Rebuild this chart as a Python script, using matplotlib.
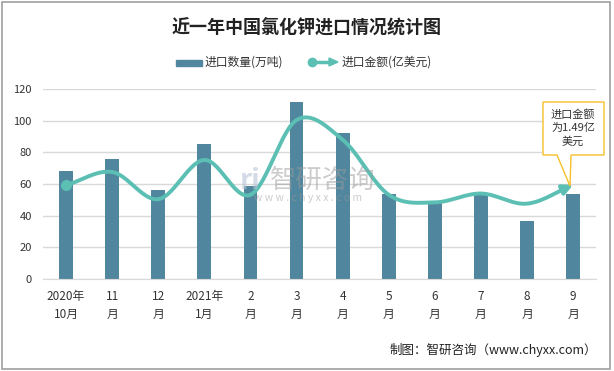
import numpy as np
import matplotlib.pyplot as plt
from matplotlib.patches import Rectangle, Polygon
from matplotlib.lines import Line2D

plt.rcParams['font.family'] = ['Noto Sans CJK SC', 'DejaVu Sans']

months = ['2020年\n10月', '11\n月', '12\n月', '2021年\n1月', '2\n月', '3\n月',
          '4\n月', '5\n月', '6\n月', '7\n月', '8\n月', '9\n月']
qty = [68, 76, 56, 85, 59, 112, 92, 54, 48.5, 54, 36.6, 54]          # 万吨
amount = [1.48, 1.69, 1.26, 1.88, 1.33, 2.51, 2.2, 1.33, 1.21, 1.35, 1.19, 1.49]  # 亿美元

bar_c = '#50879f'
line_c = '#5bbfb4'


def catmull(x, y, n=30):
    # smooth curve through the points, like excel's smoothed line
    x = np.asarray(x, float)
    y = np.asarray(y, float)
    px = np.concatenate([[2 * x[0] - x[1]], x, [2 * x[-1] - x[-2]]])
    py = np.concatenate([[2 * y[0] - y[1]], y, [2 * y[-1] - y[-2]]])
    xs, ys = [], []
    t = np.linspace(0, 1, n)
    for i in range(1, len(px) - 2):
        for p, out in ((px, xs), (py, ys)):
            p0, p1, p2, p3 = p[i - 1], p[i], p[i + 1], p[i + 2]
            out.extend(0.5 * ((2 * p1) + (-p0 + p2) * t +
                              (2 * p0 - 5 * p1 + 4 * p2 - p3) * t ** 2 +
                              (-p0 + 3 * p1 - 3 * p2 + p3) * t ** 3))
    return np.array(xs), np.array(ys)


def fx(px):
    return px / 614


def fy(py):
    return 1 - py / 371


fig = plt.figure(figsize=(6.14, 3.71), dpi=100)
fig.patches.append(Rectangle((0.004, 0.006), 0.99, 0.988, transform=fig.transFigure,
                             fill=False, edgecolor='#a0a0a0', lw=1.2))

ax = fig.add_axes([0.070, 0.248, 0.901, 0.512])
x = np.arange(len(months))
ax.bar(x, qty, width=0.3, color=bar_c, zorder=2)
ax.set_xlim(-0.5, len(months) - 0.5)
ax.set_ylim(0, 120)
ax.set_yticks(range(0, 121, 20))
ax.grid(axis='y', color='#d9d9d9', lw=1, zorder=0)
for s in ['top', 'right', 'left']:
    ax.spines[s].set_visible(False)
ax.spines['bottom'].set_color('#d9d9d9')
ax.tick_params(length=0, labelsize=8, colors='#333333')
ax.tick_params(axis='y', pad=8)
ax.set_xticks(x)
ax.set_xticklabels(months, fontsize=8.5, linespacing=1.5)
ax.tick_params(axis='x', pad=8)

ax2 = ax.twinx()
ax2.set_ylim(0, 3)
ax2.axis('off')
sx, sy = catmull(x, amount)
ax2.plot(sx[:-6], sy[:-6], color=line_c, lw=2.8, solid_capstyle='round', zorder=4)
ax2.plot(x[0], amount[0], 'o', color=line_c, ms=7, zorder=5)
ax2.annotate('', xy=(sx[-1], sy[-1]), xytext=(sx[-8], sy[-8]),
             arrowprops=dict(arrowstyle='-|>,head_length=0.6,head_width=0.3',
                             color=line_c, lw=2.8, shrinkA=0, shrinkB=0), zorder=5)

# callout
fig.patches.append(Polygon([[fx(543), fy(102)], [fx(604), fy(102)], [fx(604), fy(155)],
                            [fx(571), fy(155)], [fx(570), fy(186)], [fx(557), fy(155)],
                            [fx(543), fy(155)]],
                           closed=True, transform=fig.transFigure, facecolor='white',
                           edgecolor='#f5c02c', lw=1, zorder=10))
fig.text(fx(573), fy(128), '进口金额\n为1.49亿\n美元', ha='center', va='center',
         fontsize=8, color='#333333', linespacing=1.35, zorder=11)

# watermark
fig.text(fx(323), fy(180), '智研咨询', ha='center', va='center', fontsize=19,
         color='#9a9a9a', alpha=0.5, zorder=8)
fig.text(fx(308), fy(198), 'w w w . c h y x x . c o m', ha='center', va='center',
         fontsize=7.5, color='#9a9a9a', alpha=0.5, zorder=8)
fig.text(fx(250), fy(181), 'ri', ha='center', va='center', fontsize=20,
         fontweight='bold', color='#b8c4d8', alpha=0.6, zorder=8)

fig.text(0.5, fy(27), '近一年中国氯化钾进口情况统计图', ha='center', va='center',
         fontsize=13, fontweight='bold', color='#222222')

# legend, drawn by hand
fig.patches.append(Rectangle((fx(176), fy(66)), fx(26), 6 / 371, transform=fig.transFigure,
                             color=bar_c))
fig.text(fx(205), fy(62), '进口数量(万吨)', ha='left', va='center', fontsize=8.5,
         color='#333333')
fig.lines.append(Line2D([fx(312), fx(330)], [fy(62), fy(62)], transform=fig.transFigure,
                        color=line_c, lw=2.5))
fig.lines.append(Line2D([fx(312)], [fy(62)], transform=fig.transFigure, marker='o',
                        ms=6, color=line_c))
fig.patches.append(Polygon([[fx(329), fy(58)], [fx(338), fy(62)], [fx(329), fy(66)]],
                           closed=True, transform=fig.transFigure, color=line_c))
fig.text(fx(342), fy(62), '进口金额(亿美元)', ha='left', va='center', fontsize=8.5,
         color='#333333')

fig.text(fx(597), fy(350), '制图：智研咨询（www.chyxx.com）', ha='right', va='center',
         fontsize=9, color='#222222')

fig.savefig('out.png', dpi=100)
